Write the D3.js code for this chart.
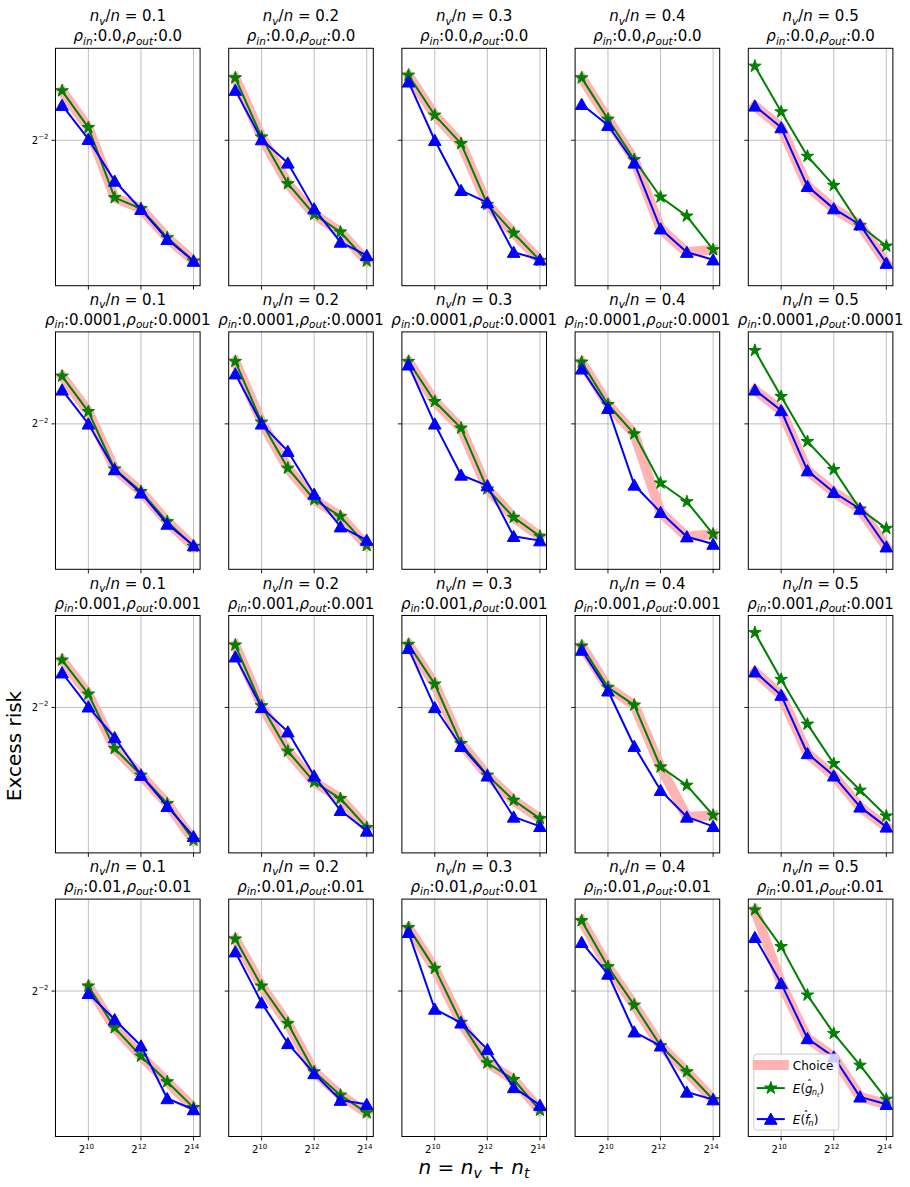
<!DOCTYPE html>
<html>
<head>
<meta charset="utf-8">
<script src="https://cdn.jsdelivr.net/npm/d3@7"></script>
<style>
  body { margin: 0; background: #fff; }
  text { font-family: "DejaVu Sans", sans-serif; fill: #000; }
</style>
</head>
<body>
<div id="root"></div>
<script>
// sample size n = n_v + n_t
const sampleSizes = [512, 1024, 2048, 4096, 8192, 16384];
const ratios = ["0.1", "0.2", "0.3", "0.4", "0.5"];
const rhos = ["0.0", "0.0001", "0.001", "0.01"];

// E(g_hat), one row per n_v/n, for each rho
const gRiskRho0 = [
  [0.2899, 0.2597, 0.2105, 0.2037, 0.1867, 0.1741],
  [0.3014, 0.2525, 0.2195, 0.2002, 0.1899, 0.1741],
  [0.3038, 0.2695, 0.2475, 0.2063, 0.1893, 0.1744],
  [0.3014, 0.2663, 0.2359, 0.2109, 0.1992, 0.1801],
  [0.3121, 0.2722, 0.2383, 0.2184, 0.1937, 0.1821],
];
const gRiskRho1 = [
  [0.2884, 0.2594, 0.2184, 0.2041, 0.1865, 0.1732],
  [0.3014, 0.2513, 0.2189, 0.1992, 0.1895, 0.1736],
  [0.3014, 0.2673, 0.2468, 0.2057, 0.1889, 0.1785],
  [0.3008, 0.2649, 0.2426, 0.2094, 0.1980, 0.1797],
  [0.3115, 0.2714, 0.2371, 0.2180, 0.1937, 0.1828],
];
const gRiskRho2 = [
  [0.2881, 0.2602, 0.2211, 0.2041, 0.1874, 0.1679],
  [0.3014, 0.2513, 0.2193, 0.2000, 0.1903, 0.1744],
  [0.3020, 0.2681, 0.2244, 0.2041, 0.1893, 0.1792],
  [0.3005, 0.2655, 0.2518, 0.2092, 0.1980, 0.1810],
  [0.3128, 0.2719, 0.2378, 0.2113, 0.1951, 0.1806],
];
const gRiskRho3 = [
  [null, 0.2538, 0.2240, 0.2057, 0.1905, 0.1763],
  [0.2922, 0.2538, 0.2269, 0.1963, 0.1830, 0.1736],
  [0.3023, 0.2676, 0.2276, 0.2016, 0.1918, 0.1749],
  [0.3087, 0.2689, 0.2397, 0.2122, 0.1963, 0.1806],
  [0.3188, 0.2856, 0.2470, 0.2202, 0.2002, 0.1808],
];

// E(f_hat)
const fRiskRho0 = [
  [0.2777, 0.2508, 0.2213, 0.2033, 0.1858, 0.1741],
  [0.2905, 0.2505, 0.2336, 0.2037, 0.1843, 0.1771],
  [0.2978, 0.2500, 0.2152, 0.2074, 0.1788, 0.1748],
  [0.2785, 0.2615, 0.2336, 0.1918, 0.1788, 0.1748],
  [0.2771, 0.2597, 0.2178, 0.2037, 0.1941, 0.1730],
];
const fRiskRho1 = [
  [0.2768, 0.2500, 0.2180, 0.2033, 0.1852, 0.1736],
  [0.2905, 0.2500, 0.2303, 0.2026, 0.1837, 0.1765],
  [0.2984, 0.2500, 0.2145, 0.2078, 0.1785, 0.1762],
  [0.2948, 0.2620, 0.2082, 0.1918, 0.1783, 0.1744],
  [0.2768, 0.2602, 0.2173, 0.2037, 0.1937, 0.1730],
];
const fRiskRho2 = [
  [0.2774, 0.2505, 0.2285, 0.2041, 0.1859, 0.1699],
  [0.2910, 0.2500, 0.2324, 0.2037, 0.1837, 0.1727],
  [0.2984, 0.2500, 0.2226, 0.2037, 0.1801, 0.1751],
  [0.2969, 0.2628, 0.2226, 0.1951, 0.1801, 0.1751],
  [0.2782, 0.2594, 0.2178, 0.2037, 0.1856, 0.1748],
];
const fRiskRho3 = [
  [null, 0.2483, 0.2296, 0.2122, 0.1812, 0.1753],
  [0.2813, 0.2414, 0.2137, 0.1953, 0.1803, 0.1781],
  [0.2981, 0.2369, 0.2273, 0.2099, 0.1873, 0.1776],
  [0.2893, 0.2631, 0.2213, 0.2122, 0.1848, 0.1806],
  [0.2937, 0.2558, 0.2169, 0.2053, 0.1821, 0.1781],
];

// which estimator the selection rule picked: g = g_hat, f = f_hat
const choiceRho0 = ["gggggg", "gggggg", "gggggg", "gggffg", "ffffff"];
const choiceRho1 = ["gggggg", "gggggg", "gggggg", "gggffg", "ffffff"];
const choiceRho2 = ["gggggg", "gggggg", "gggggg", "ggggfg", "ffffff"];
const choiceRho3 = ["gggggg", "gggggg", "gggggg", "gggggg", "gfffff"];

const xTicks = [1024, 4096, 16384];
const yTicks = [0.25];

const gRisk = [gRiskRho0, gRiskRho1, gRiskRho2, gRiskRho3];
const fRisk = [fRiskRho0, fRiskRho1, fRiskRho2, fRiskRho3];
const choice = [choiceRho0, choiceRho1, choiceRho2, choiceRho3];

const width = 910;
const height = 1187;
const panelW = 144.6;
const panelH = 237.4;
const left0 = 55.5, stepX = 173.2;
const top0 = 48.3, stepY = 283.6;

const pink = "#ffb3b3";
const green = "#008000";
const blue = "#0000ff";
const gridColor = "#b0b0b0";

const x = d3.scaleLog().base(2)
  .domain([Math.pow(2, 8.75), Math.pow(2, 14.25)])
  .range([0, panelW]);
const y = d3.scaleLog().base(2)
  .domain([0.1617, 0.3293])
  .range([panelH, 0]);

const svg = d3.select("#root").append("svg")
  .attr("width", width)
  .attr("height", height);

svg.append("rect").attr("width", width).attr("height", height).attr("fill", "#fff");

// mathtext-ish label: parts are [text, kind]
// kind: r(oman), i(talic), s(ubscript), ss (sub-subscript), h (hat over previous glyph)
function mathText(sel, parts, size) {
  let shift = 0;
  parts.forEach(([t, kind]) => {
    if (kind === "h") {
      const target = -size * 0.42;
      sel.append("tspan")
        .attr("dx", -size * 0.48)
        .attr("dy", target - shift)
        .attr("font-size", size * 0.8)
        .text(t);
      shift = target;
      // move back so the next glyph does not overlap
      sel.append("tspan").attr("dx", size * 0.02).attr("font-size", size).text("");
      return;
    }
    const target = kind === "s" ? size * 0.22 : kind === "ss" ? size * 0.36 : 0;
    sel.append("tspan")
      .attr("dy", target - shift)
      .attr("font-size", kind === "s" ? size * 0.7 : kind === "ss" ? size * 0.5 : size)
      .attr("font-style", kind === "r" ? "normal" : "italic")
      .text(t);
    shift = target;
  });
}

function starPath(r) {
  const pts = d3.range(10).map(i => {
    const a = -Math.PI / 2 + i * Math.PI / 5;
    const rr = i % 2 === 0 ? r : r * 0.381966;
    return [rr * Math.cos(a), rr * Math.sin(a)];
  });
  return "M" + pts.map(p => p.join(",")).join("L") + "Z";
}
const star = starPath(6.6);
const triangle = "M0,-6L-6.3,5.2L6.3,5.2Z";

rhos.forEach((rho, r) => {
  ratios.forEach((ratio, c) => {
    const px = left0 + c * stepX;
    const py = top0 + r * stepY;
    const g = svg.append("g").attr("transform", `translate(${px},${py})`);
    const clipId = `clip-${r}-${c}`;
    g.append("clipPath").attr("id", clipId)
      .append("rect").attr("width", panelW).attr("height", panelH);

    // grid
    g.selectAll(".gx").data(xTicks).join("line")
      .attr("x1", d => x(d)).attr("x2", d => x(d))
      .attr("y1", 0).attr("y2", panelH)
      .attr("stroke", gridColor).attr("stroke-width", 0.8);
    g.selectAll(".gy").data(yTicks).join("line")
      .attr("y1", d => y(d)).attr("y2", d => y(d))
      .attr("x1", 0).attr("x2", panelW)
      .attr("stroke", gridColor).attr("stroke-width", 0.8);

    const gv = gRisk[r][c];
    const fv = fRisk[r][c];
    const ch = choice[r][c];
    const gPts = sampleSizes.map((n, i) => ({ n, v: gv[i] })).filter(d => d.v != null);
    const fPts = sampleSizes.map((n, i) => ({ n, v: fv[i] })).filter(d => d.v != null);
    const cPts = sampleSizes.map((n, i) => ({ n, v: ch[i] === "g" ? gv[i] : fv[i] }))
      .filter(d => d.v != null);

    const line = d3.line().x(d => x(d.n)).y(d => y(d.v));
    const plot = g.append("g").attr("clip-path", `url(#${clipId})`);

    plot.append("path").datum(cPts)
      .attr("d", line).attr("fill", "none")
      .attr("stroke", pink).attr("stroke-width", 10)
      .attr("stroke-linejoin", "round").attr("stroke-linecap", "square");

    plot.append("path").datum(gPts)
      .attr("d", line).attr("fill", "none")
      .attr("stroke", green).attr("stroke-width", 2)
      .attr("stroke-linejoin", "round");
    plot.selectAll(".star").data(gPts).join("path")
      .attr("transform", d => `translate(${x(d.n)},${y(d.v)})`)
      .attr("d", star).attr("fill", green)
      .attr("stroke", green).attr("stroke-width", 1);

    plot.append("path").datum(fPts)
      .attr("d", line).attr("fill", "none")
      .attr("stroke", blue).attr("stroke-width", 2)
      .attr("stroke-linejoin", "round");
    plot.selectAll(".tri").data(fPts).join("path")
      .attr("transform", d => `translate(${x(d.n)},${y(d.v)})`)
      .attr("d", triangle).attr("fill", blue)
      .attr("stroke", blue).attr("stroke-width", 1);

    // spines
    g.append("rect").attr("width", panelW).attr("height", panelH)
      .attr("fill", "none").attr("stroke", "#000").attr("stroke-width", 1);

    // ticks
    g.selectAll(".tx").data(xTicks).join("line")
      .attr("x1", d => x(d)).attr("x2", d => x(d))
      .attr("y1", panelH).attr("y2", panelH + 4)
      .attr("stroke", "#000").attr("stroke-width", 0.9);
    g.selectAll(".ty").data(yTicks).join("line")
      .attr("y1", d => y(d)).attr("y2", d => y(d))
      .attr("x1", -4).attr("x2", 0)
      .attr("stroke", "#000").attr("stroke-width", 0.9);

    if (r === rhos.length - 1) {
      g.selectAll(".lx").data(xTicks).join("text")
        .attr("x", d => x(d) - 2).attr("y", panelH + 17)
        .attr("text-anchor", "middle")
        .each(function(d) {
          const t = d3.select(this);
          t.append("tspan").attr("font-size", 10).text("2");
          t.append("tspan").attr("font-size", 7).attr("dy", -4.5).text(Math.log2(d));
        });
    }
    if (c === 0) {
      g.selectAll(".ly").data(yTicks).join("text")
        .attr("x", -7).attr("y", d => y(d) + 3.5)
        .attr("text-anchor", "end")
        .each(function(d) {
          const t = d3.select(this);
          t.append("tspan").attr("font-size", 10).text("2");
          t.append("tspan").attr("font-size", 7).attr("dy", -4.5).text("\u2212" + (-Math.log2(d)));
        });
    }

    // titles
    mathText(g.append("text").attr("x", panelW / 2).attr("y", -27).attr("text-anchor", "middle"),
      [["n", "i"], ["v", "s"], ["/", "r"], ["n", "i"], [" = " + ratio, "r"]], 15);
    mathText(g.append("text").attr("x", panelW / 2).attr("y", -7).attr("text-anchor", "middle"),
      [["\u03c1", "i"], ["in", "s"], [":" + rho + ",", "r"], ["\u03c1", "i"], ["out", "s"], [":" + rho, "r"]], 15);
  });
});

// legend in the last panel
const legX = left0 + 4 * stepX + 5.5;
const legY = top0 + 3 * stepY + 155;
const leg = svg.append("g").attr("transform", `translate(${legX},${legY})`);
leg.append("rect").attr("width", 85).attr("height", 76).attr("rx", 3)
  .attr("fill", "#fff").attr("fill-opacity", 0.8)
  .attr("stroke", "#cccccc").attr("stroke-width", 1);
const legendItems = [
  { key: "choice", yy: 11 },
  { key: "g", yy: 34 },
  { key: "f", yy: 65 },
];
legendItems.forEach(it => {
  const row = leg.append("g").attr("transform", `translate(0,${it.yy})`);
  if (it.key === "choice") {
    row.append("line").attr("x1", 4).attr("x2", 30)
      .attr("stroke", pink).attr("stroke-width", 10).attr("stroke-linecap", "square");
    row.append("text").attr("x", 39).attr("y", 4.5).attr("font-size", 12).text("Choice");
  } else {
    const col = it.key === "g" ? green : blue;
    row.append("line").attr("x1", 3).attr("x2", 31)
      .attr("stroke", col).attr("stroke-width", 2);
    row.append("path").attr("transform", "translate(17,0)")
      .attr("d", it.key === "g" ? star : triangle)
      .attr("fill", col).attr("stroke", col).attr("stroke-width", 1);
    const t = row.append("text").attr("x", 39).attr("y", 4.5);
    if (it.key === "g") {
      mathText(t, [["E", "i"], ["(", "r"], ["g", "i"], ["\u02c6", "h"], ["n", "s"], ["t", "ss"], [")", "r"]], 12);
    } else {
      mathText(t, [["E", "i"], ["(", "r"], ["f", "i"], ["\u02c6", "h"], ["n", "s"], [")", "r"]], 12);
    }
  }
});

// figure labels
svg.append("text")
  .attr("transform", "translate(21,746) rotate(-90)")
  .attr("text-anchor", "middle")
  .attr("font-size", 20)
  .text("Excess risk");

mathText(svg.append("text").attr("x", 474).attr("y", 1174).attr("text-anchor", "middle"),
  [["n", "i"], [" = ", "r"], ["n", "i"], ["v", "s"], [" + ", "r"], ["n", "i"], ["t", "s"]], 20);
</script>
</body>
</html>
